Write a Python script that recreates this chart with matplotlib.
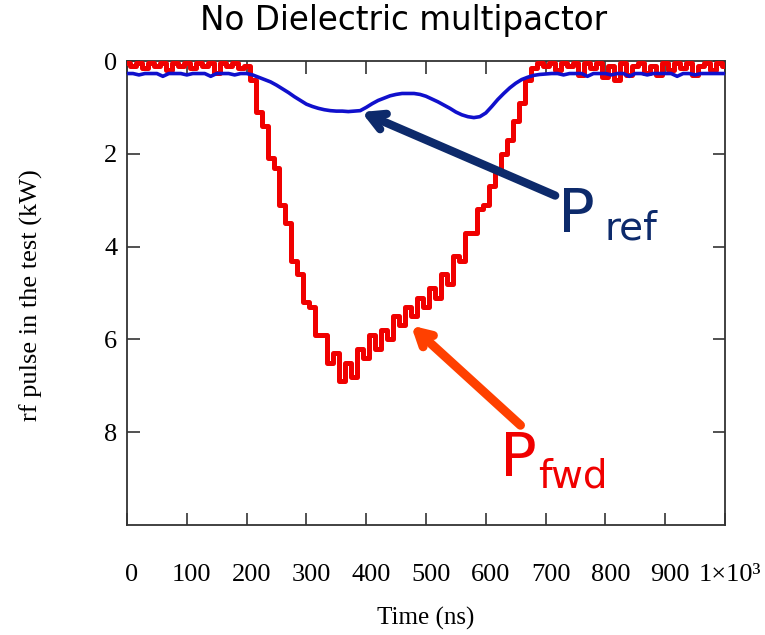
import matplotlib
matplotlib.use("Agg")
import matplotlib.pyplot as plt
import matplotlib.transforms as mtransforms
import numpy as np

# ---------------- data ----------------
time_ns = list(range(0, 1001, 10))

p_fwd = [
    0.05, 0.10, 0.05, 0.15, 0.05, 0.10, 0.05, 0.20, 0.05, 0.10,   # 0-90
    0.05, 0.15, 0.05, 0.10, 0.05, 0.25, 0.05, 0.10, 0.05, 0.15,   # 100-190
    0.10, 0.40, 1.10, 1.40, 2.10, 2.30, 3.10, 3.50, 4.30, 4.60,   # 200-290
    5.20, 5.30, 5.90, 5.90, 6.50, 6.30, 6.90, 6.50, 6.80, 6.20,   # 300-390
    6.40, 5.90, 6.20, 5.80, 6.00, 5.50, 5.70, 5.30, 5.50, 5.10,   # 400-490
    5.30, 4.90, 5.10, 4.60, 4.80, 4.20, 4.30, 3.70, 3.70, 3.20,   # 500-590
    3.10, 2.70, 2.40, 2.00, 1.70, 1.30, 0.90, 0.40, 0.15, 0.05,   # 600-690
    0.10, 0.05, 0.20, 0.05, 0.10, 0.05, 0.30, 0.05, 0.15, 0.05,   # 700-790
    0.35, 0.10, 0.40, 0.05, 0.30, 0.10, 0.05, 0.25, 0.10, 0.30,   # 800-890
    0.05, 0.20, 0.05, 0.15, 0.05, 0.30, 0.10, 0.05, 0.20, 0.05,   # 900-990
    0.10,                                                         # 1000
]

p_ref = [
    0.27, 0.27, 0.30, 0.27, 0.27, 0.27, 0.33, 0.27, 0.27, 0.27,   # 0-90
    0.30, 0.27, 0.27, 0.27, 0.33, 0.27, 0.27, 0.27, 0.30, 0.27,   # 100-190
    0.27, 0.30, 0.35, 0.40, 0.45, 0.52, 0.60, 0.68, 0.77, 0.85,   # 200-290
    0.93, 0.98, 1.02, 1.05, 1.07, 1.08, 1.08, 1.09, 1.08, 1.07,   # 300-390
    1.00, 0.92, 0.85, 0.80, 0.75, 0.72, 0.70, 0.70, 0.70, 0.72,   # 400-490
    0.76, 0.82, 0.88, 0.95, 1.02, 1.10, 1.16, 1.20, 1.22, 1.20,   # 500-590
    1.12, 0.98, 0.83, 0.70, 0.58, 0.48, 0.40, 0.35, 0.31, 0.29,   # 600-690
    0.28, 0.27, 0.27, 0.30, 0.27, 0.27, 0.27, 0.33, 0.27, 0.27,   # 700-790
    0.27, 0.30, 0.27, 0.27, 0.33, 0.27, 0.27, 0.30, 0.27, 0.27,   # 800-890
    0.27, 0.27, 0.33, 0.27, 0.27, 0.30, 0.27, 0.27, 0.27, 0.27,   # 900-990
    0.27,                                                         # 1000
]

x_ticks = [0, 100, 200, 300, 400, 500, 600, 700, 800, 900, 1000]
x_tick_labels = ["0", "100", "200", "300", "400", "500", "600", "700", "800", "900", "1×10³"]
y_ticks = [0, 2, 4, 6, 8]
y_tick_labels = ["0", "2", "4", "6", "8"]

title = "No Dielectric multipactor"
x_label = "Time (ns)"
y_label = "rf pulse in the test (kW)"

# ---------------- figure ----------------
W, H = 765, 635
fig = plt.figure(figsize=(W / 100, H / 100), dpi=100)
ax = fig.add_axes([127 / W, 1 - 525 / H, (725 - 127) / W, (525 - 61) / H])

ax.plot(time_ns, p_fwd, color="#f00000", lw=3.6, drawstyle="steps-mid", zorder=3)
ax.plot(time_ns, p_ref, color="#1010cc", lw=2.6, zorder=4)

ax.set_xlim(0, 1000)
ax.set_ylim(10, 0)

serif = "Liberation Serif"
ax.set_xticks(x_ticks)
ax.set_xticklabels(x_tick_labels, fontsize=19, family=serif)
ax.set_yticks(y_ticks)
ax.set_yticklabels(y_tick_labels, fontsize=19, family=serif)
ax.tick_params(axis="both", direction="in", length=9, width=1.2, color="#333333",
               top=True, right=True)
ax.tick_params(axis="x", pad=28)
ax.tick_params(axis="y", pad=7)
shift = mtransforms.ScaledTranslation(5 / 100, 0, fig.dpi_scale_trans)
for lab in ax.get_xticklabels():
    lab.set_transform(lab.get_transform() + shift)
for s in ax.spines.values():
    s.set_color("#333333")
    s.set_linewidth(1.3)

ax.set_xlabel(x_label, fontsize=18, family=serif)
ax.xaxis.set_label_coords(426 / W, 1 - 607 / H, transform=fig.transFigure)
ax.set_ylabel(y_label, fontsize=19, family=serif)
ax.yaxis.set_label_coords(43 / W, 1 - 295 / H, transform=fig.transFigure)

fig.text(404 / W, 1 - 30 / H, title, ha="center", va="baseline", fontsize=23.5,
         family="DejaVu Sans", color="black")

# arrows
ax.annotate("", xy=(392, 1.1), xytext=(716, 2.9), annotation_clip=False,
            arrowprops=dict(arrowstyle="->,head_length=1.1,head_width=0.6",
                            color="#0d2a6b", lw=6, capstyle="round",
                            joinstyle="round", shrinkA=0, shrinkB=0))
ax.annotate("", xy=(475, 5.7), xytext=(658, 7.85), annotation_clip=False,
            arrowprops=dict(arrowstyle="->,head_length=1.0,head_width=0.55",
                            color="#ff4000", lw=6.5, capstyle="round",
                            joinstyle="round", shrinkA=0, shrinkB=0))

# labels P_ref and P_fwd
fig.text(558 / W, 1 - 232 / H, "P", fontsize=44, color="#0d2a6b",
         family="DejaVu Sans", va="baseline", ha="left")
fig.text(605 / W, 1 - 240 / H, "ref", fontsize=28, color="#0d2a6b",
         family="DejaVu Sans", va="baseline", ha="left")
fig.text(500 / W, 1 - 476 / H, "P", fontsize=44, color="#f00000",
         family="DejaVu Sans", va="baseline", ha="left")
fig.text(538 / W, 1 - 488 / H, "fwd", fontsize=28, color="#f00000",
         family="DejaVu Sans", va="baseline", ha="left")

fig.savefig("out.png", dpi=100, facecolor="white")
